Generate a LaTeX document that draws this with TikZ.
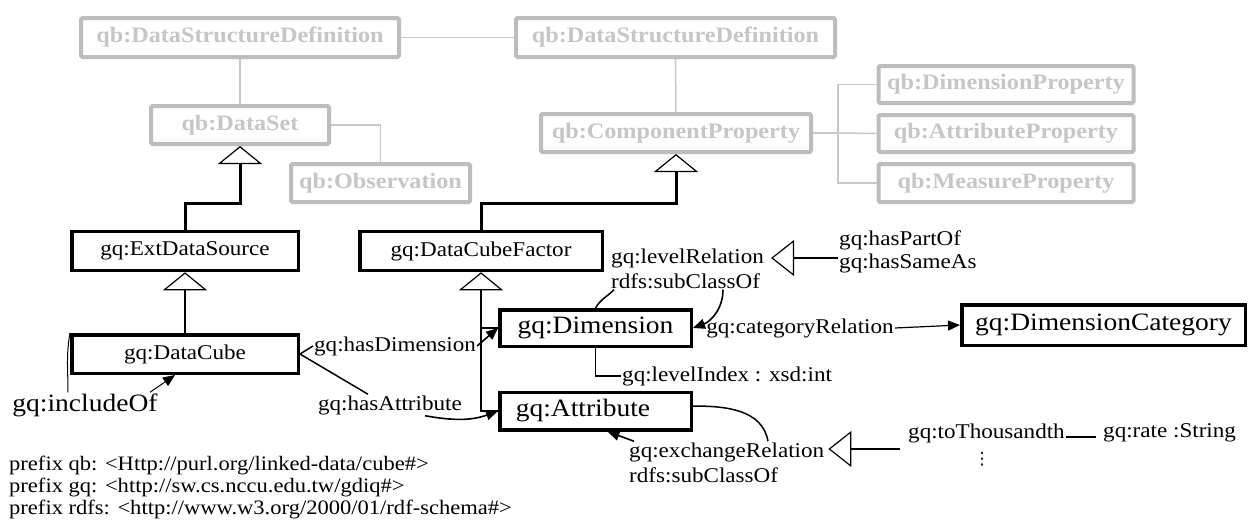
\documentclass[tikz,border=0pt]{standalone}
\usepackage{fontspec}
\setmainfont{Liberation Serif}[FakeStretch=1.1]
\newfontfamily\symfont{DejaVu Sans}
\usetikzlibrary{arrows.meta,calc}
\definecolor{boxgray}{HTML}{BDBDBD}
\definecolor{txtgray}{HTML}{C6C6C6}
\definecolor{linegray}{HTML}{C8C8C8}
\newcommand\grayfont{\fontsize{22}{24}\selectfont\bfseries}
\newcommand\labelfont{\fontsize{21}{23}\selectfont}
\newcommand\largefont{\fontsize{25}{28}\selectfont}
\tikzset{
  gbox/.style={draw=boxgray, line width=4pt, rounded corners=1.5pt, text=txtgray,
    font=\grayfont, inner sep=0pt, minimum height=39pt},
  bbox/.style={draw=black, line width=3.5pt, font=\labelfont, inner sep=0pt,
    minimum height=39pt},
  lbl/.style={font=\labelfont, inner sep=1pt},
  glink/.style={draw=linegray, line width=1.5pt},
  gen/.style={-{Triangle[open,length=18pt,width=44pt,line width=1.2pt]}},
  genleft/.style={-{Triangle[open,length=23pt,width=36pt,line width=1.2pt]}},
  arr/.style={-{Triangle[length=12pt,width=10pt]}, line width=1.6pt},
}
\begin{document}
\begin{tikzpicture}[x=1pt,y=1pt]
\fill[white] (0,0) rectangle (1248,-530);
\useasboundingbox (0,0) rectangle (1248,-530);

% qb vocabulary (grey)
\node[gbox, minimum width=318pt] (dsd1) at (240,-37.5) {qb:DataStructureDefinition};
\node[gbox, minimum width=319pt] (dsd2) at (675.5,-37.5) {qb:DataStructureDefinition};
\node[gbox, minimum width=178pt, minimum height=38pt] (dset) at (240,-125) {qb:DataSet};
\node[gbox, minimum width=179pt, minimum height=38pt] (obs) at (380.5,-183) {qb:Observation};
\node[gbox, minimum width=270pt, minimum height=38pt] (cprop) at (676,-133) {qb:ComponentProperty};
\node[gbox, minimum width=255pt, minimum height=37pt] (dprop) at (1006,-84.5) {qb:DimensionProperty};
\node[gbox, minimum width=255pt, minimum height=37pt] (aprop) at (1006,-133.5) {qb:AttributeProperty};
\node[gbox, minimum width=255pt, minimum height=38pt] (mprop) at (1006,-183) {qb:MeasureProperty};
\coordinate (fork) at (838,-133);

\draw[glink] (dsd1) -- (dsd2);
\draw[glink] (dsd1) -- (dset);
\draw[glink] (dset.east) -| (obs.north);
\draw[glink] (dsd2) -- (cprop);
\draw[glink] (cprop.east) -- (fork);
\draw[glink] (dprop.west) -| (fork) |- (mprop.west);
\draw[glink] (fork) -- (aprop.west);

% gq classes
\node[bbox, minimum width=226.5pt] (extds) at (185,-251) {gq:ExtDataSource};
\node[bbox, minimum width=242.5pt] (dcf) at (481,-251) {gq:DataCubeFactor};
\node[bbox, minimum width=226.5pt, minimum height=38.5pt] (dcube) at (185,-354) {gq:DataCube};
\node[bbox, minimum width=191.5pt, minimum height=36.5pt, font=\largefont] (dim) at (595.5,-328) {gq:Dimension};
\node[bbox, text width=159.5pt, inner xsep=16pt, align=left, minimum height=37.5pt, font=\largefont] (attr) at (595.5,-411) {gq:Attribute};
\node[bbox, minimum width=283.5pt, minimum height=40.5pt, font=\largefont] (dimcat) at (1103.5,-325) {gq:DimensionCategory};

% subclass links
\draw[gen, line width=3pt] (extds.north) -- ++(0,26) -| (dset.south);
\draw[gen, line width=3pt] (dcf.north) -- ++(0,26) -| (cprop.south);
\draw[gen, line width=2.5pt] (dcube) -- (extds);
\draw[gen, line width=2pt] (attr.west) -| (dcf.south);
\draw[line width=2pt] (dim.west) -- (dim.west -| dcf.south);

% properties of gq:DataCube
\node[lbl] (hasdim) at (395,-346) {gq:hasDimension};
\node[lbl] (hasatt) at (390,-405) {gq:hasAttribute};
\node[lbl, font=\largefont] (incl) at (85,-405) {gq:includeOf};
\draw[line width=1.5pt] (dcube.east) -- (hasdim.west);
\draw[arr] (hasdim.east) -- (dim.west);
\draw[line width=1.5pt] (dcube.east) -- ([xshift=-22pt]hasatt.north);
\draw[arr] ([xshift=35pt]hasatt.south) to[out=-10,in=200] (attr.west);
\draw[line width=1pt] (dcube.north west) to[out=-100,in=90] ([xshift=-17pt]incl.north);
\draw[arr, line width=1pt] ([xshift=65pt]incl.north) -- ([xshift=-10pt]dcube.south);

% properties of gq:Dimension
\node[lbl, anchor=west] (lvlrel) at (610,-258) {gq:levelRelation};
\node[lbl, anchor=west] (lvlsub) at (610,-281) {rdfs:subClassOf};
\node[lbl, anchor=west, align=left] (hasp) at (838,-252) {gq:hasPartOf\\gq:hasSameAs};
\draw[line width=1.5pt] ([xshift=4pt]lvlsub.south west) to[out=225,in=60] (dim.north);
\draw[arr] ([xshift=113pt]lvlsub.south west) to[out=-90,in=20] (dim.east);
\draw[genleft, line width=1.8pt] (hasp.west |- lvlrel.east) -- ([xshift=6pt]lvlrel.east);
\node[lbl] (catrel) at (800,-328) {gq:categoryRelation};
\draw[arr, line width=1.2pt] (catrel.east) -- (dimcat.west);
\node[lbl, anchor=west] (lvlidx) at (621,-376) {gq:levelIndex : xsd:int};
\draw[line width=1.2pt] (dim.south) |- (lvlidx.west);

% properties of gq:Attribute
\node[lbl, anchor=west] (exch) at (628,-452) {gq:exchangeRelation};
\node[lbl, anchor=west] (exsub) at (628,-475) {rdfs:subClassOf};
\draw[line width=1.5pt] ([yshift=5pt]attr.east) to[out=0,in=100] ([xshift=140pt]exch.north west);
\draw[arr] ([xshift=6pt]exch.north west) -- ([xshift=12pt]attr.south);
\node[lbl, anchor=west] (thou) at (907,-433) {gq:toThousandth};
\node[lbl, anchor=west] (rate) at (1102,-433) {gq:rate :String};
\node[inner sep=0pt, font=\symfont\fontsize{17}{17}\selectfont] (more) at (982,-459) {⋮};
\draw[line width=1.5pt, shorten >=6pt] ([yshift=-4pt]thou.east) -- ([yshift=-4pt]rate.west);
\coordinate (exfoot) at (900,-449);
\draw[genleft, line width=1.8pt] (exfoot) -- ([xshift=3pt,yshift=3pt]exch.east);

% namespace prefixes
\node[lbl, anchor=north west, align=left, font=\fontsize{20.5}{22}\selectfont] (pfx) at (8,-455)
  {prefix qb: <Http://purl.org/linked-data/cube\#>\\
   prefix gq: <http://sw.cs.nccu.edu.tw/gdiq\#>\\
   prefix rdfs: <http://www.w3.org/2000/01/rdf-schema\#>};
\end{tikzpicture}
\end{document}
